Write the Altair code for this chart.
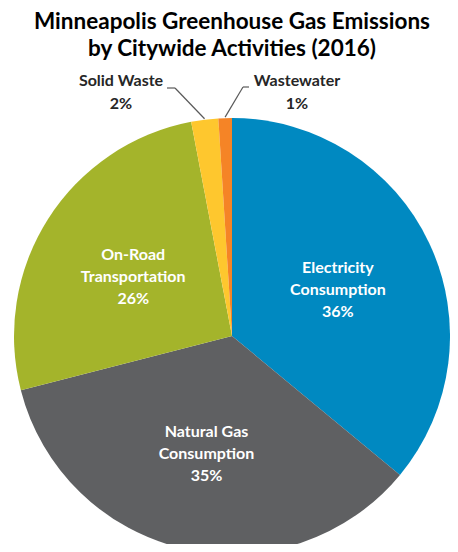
import math
import altair as alt
import pandas as pd

# ---- data -------------------------------------------------------------
categories = ["Electricity Consumption", "Natural Gas Consumption",
              "On-Road Transportation", "Solid Waste", "Wastewater"]
values = [36, 35, 26, 2, 1]
label_names = ["Electricity\nConsumption", "Natural Gas\nConsumption",
               "On-Road\nTransportation", "Solid Waste", "Wastewater"]
inside = [True, True, True, False, False]
colors = ["#0089C1", "#5F6062", "#A4B42B", "#FEC72E", "#F58426"]
title_text = "Minneapolis Greenhouse Gas Emissions\nby Citywide Activities (2016)"

# ---- layout (plot coordinates, px) ------------------------------------
W, H = 442, 536
CX, CY, R = 224, 328, 218
FONT = "Lato"

df = pd.DataFrame({
    "idx": list(range(len(categories))),
    "category": categories,
    "value": values,
    "inlabel": [f"{n}\n{v}%" if i else "" for n, v, i in zip(label_names, values, inside)],
})

# leader lines for the small slices: inner end computed from slice mid-angle
elbows = {"Solid Waste": ((167, 80), (159, 80)), "Wastewater": ((235, 79), (241, 79))}
out_pos = {"Solid Waste": (113, 73), "Wastewater": (289, 73)}
total = sum(values)
cum = 0
seg_rows, out_rows = [], []
for name, v in zip(categories, values):
    mid = (cum + v / 2) / total * 2 * math.pi
    cum += v
    if name in elbows:
        px = CX + (R + 1) * math.sin(mid)
        py = CY - (R + 1) * math.cos(mid)
        (ex, ey), (hx, hy) = elbows[name]
        seg_rows.append({"x": px, "y": py, "x2": ex, "y2": ey})
        seg_rows.append({"x": ex, "y": ey, "x2": hx, "y2": hy})
        ox, oy = out_pos[name]
        out_rows.append({"x": ox, "y": oy, "label": f"{name}\n{v}%"})
seg_df = pd.DataFrame(seg_rows)
out_df = pd.DataFrame(out_rows)

base = alt.Chart(df)

pie = base.mark_arc(radius=R).encode(
    theta=alt.Theta("value:Q", stack=True),
    color=alt.Color("category:N", scale=alt.Scale(domain=categories, range=colors), legend=None),
    order=alt.Order("idx:Q"),
    x=alt.value(CX),
    y=alt.value(CY),
)

in_text = base.mark_text(
    radius=117, font=FONT, fontSize=16, fontWeight="bold", color="white",
    lineBreak="\n", lineHeight=22, align="center", baseline="middle", dy=-18,
).encode(
    theta=alt.Theta("value:Q", stack=True),
    order=alt.Order("idx:Q"),
    text="inlabel:N",
    x=alt.value(CX),
    y=alt.value(CY),
)

leaders = alt.Chart(seg_df).mark_rule(color="#595959", strokeWidth=1.2).encode(
    x=alt.X("x:Q", scale=None, axis=None),
    y=alt.Y("y:Q", scale=None, axis=None),
    x2="x2:Q",
    y2="y2:Q",
)

out_text = alt.Chart(out_df).mark_text(
    font=FONT, fontSize=16, fontWeight="bold", color="#262626",
    lineBreak="\n", lineHeight=23, align="center", baseline="middle",
).encode(
    x=alt.X("x:Q", scale=None, axis=None),
    y=alt.Y("y:Q", scale=None, axis=None),
    text="label:N",
)

title = alt.Chart(pd.DataFrame({"t": [title_text]})).mark_text(
    font=FONT, fontSize=22.5, fontWeight="bold", color="#000000",
    lineBreak="\n", lineHeight=27, align="center", baseline="middle",
).encode(x=alt.value(CX), y=alt.value(14), text="t:N")

chart = alt.layer(pie, in_text, leaders, out_text, title).properties(
    width=W, height=H,
    autosize=alt.AutoSizeParams(type="none"),
    padding=0,
).resolve_scale(theta="independent").configure_view(stroke=None)

chart.save("out.html", embed_options={"renderer": "svg", "actions": False})
